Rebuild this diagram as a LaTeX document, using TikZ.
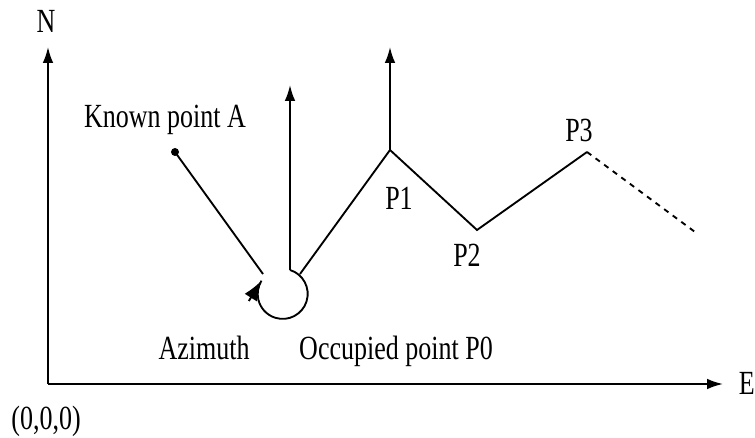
\documentclass[tikz,border=0pt]{standalone}
\usepackage{fontspec}
\setmainfont{Liberation Serif}
\usetikzlibrary{arrows.meta}
\newcommand{\tall}[1]{\scalebox{1}[1.3]{#1}}
\tikzset{
  lbl/.style={inner sep=0pt, anchor=base, font=\fontsize{19.5}{23}\selectfont},
  axis/.style={-{Latex[length=12pt,width=8pt]}, line width=1.4pt},
  turn/.style={-{Latex[length=15pt,width=11pt]}, line width=1.4pt},
  leg/.style={line width=1.4pt},
  trail/.style={line width=1.4pt, dash pattern=on 4pt off 4pt}
}

\begin{document}
\begin{tikzpicture}[x=0.75pt, y=0.75pt]
  \useasboundingbox (0,0) rectangle (755,438);
  % axes
  \coordinate (o) at (48,54);
  \coordinate (ntip) at (48,391);
  \coordinate (etip) at (723,54);
  \draw[axis] (o) -- (ntip);
  \draw[axis] (o) -- (etip);
  \node[lbl] (n) at (46,405) {\tall{N}};
  \node[lbl, anchor=base east] (e) at (755,43) {\tall{E}};
  \node[lbl] (orig) at (46,8) {\tall{(0,0,0)}};
  % stations
  \coordinate (a) at (175,286);
  \coordinate (aend) at (263,164);
  \coordinate (p0) at (290,168);
  \coordinate (p0r) at (300,164);
  \coordinate (p0n) at (290,353);
  \coordinate (p1) at (390,288);
  \coordinate (p1n) at (390,391);
  \coordinate (p2) at (477,208);
  \coordinate (p3) at (587,286);
  \coordinate (far) at (695,206);
  \fill (a) circle (3pt);
  \draw[leg] (a) -- (aend);
  % azimuth loop
  \draw[leg] (p0) arc[start angle=73, end angle=-212, radius=25] coordinate (looptip);
  \path (looptip) ++(238:24) coordinate (loopback);
  \draw[turn] (loopback) -- (looptip);
  \draw[axis] (p0) -- (p0n);
  \draw[leg] (p0r) -- (p1) -- (p2) -- (p3);
  \draw[axis] (p1) -- (p1n);
  \draw[trail] (p3) -- (far);
  % labels
  \node[lbl] (known) at (165,310) {\tall{Known point A}};
  \node[lbl] (azim) at (204,78) {\tall{Azimuth}};
  \node[lbl] (occ) at (396,78) {\tall{Occupied point P0}};
  \node[lbl] (l1) at (399,228) {\tall{P1}};
  \node[lbl] (l2) at (467,171) {\tall{P2}};
  \node[lbl] (l3) at (579,296) {\tall{P3}};
\end{tikzpicture}
\end{document}
